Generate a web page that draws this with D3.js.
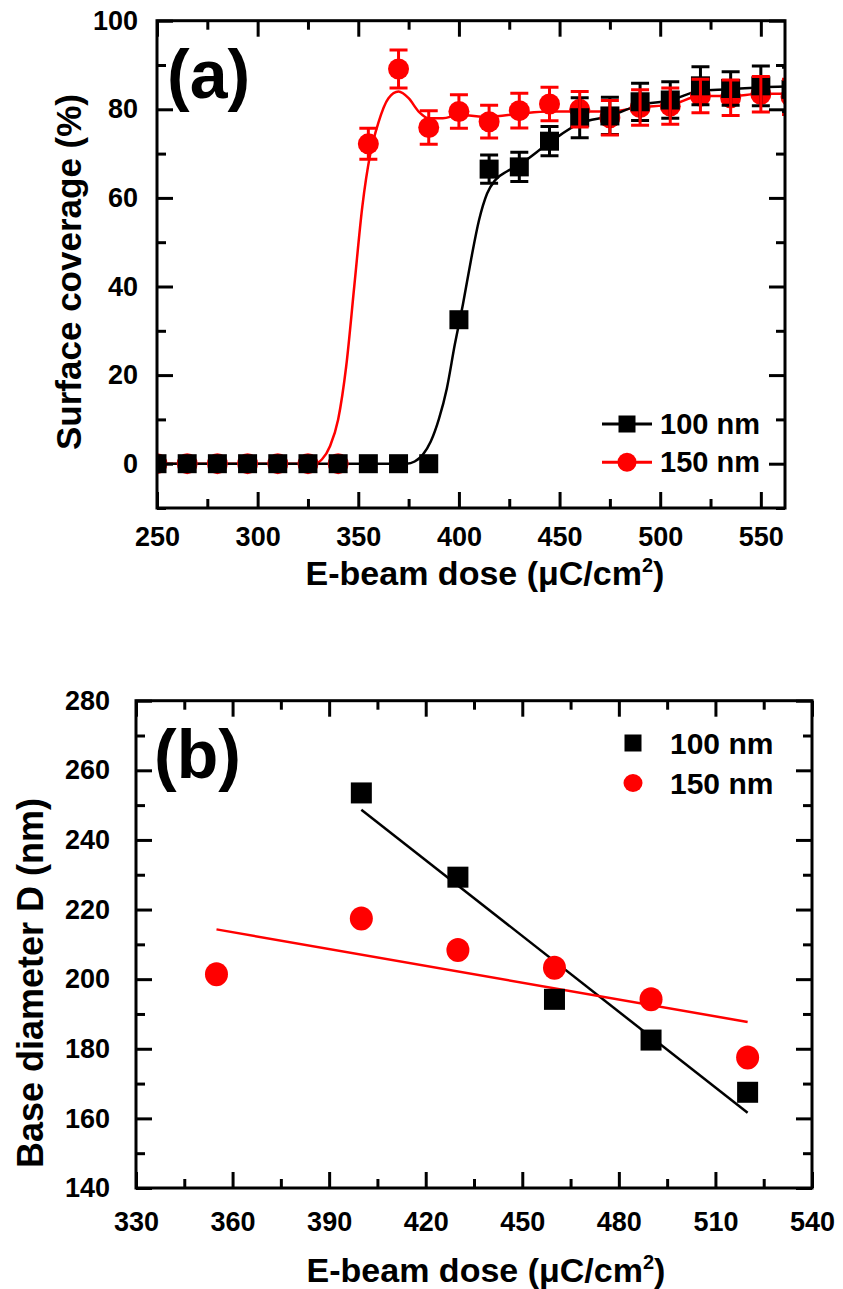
<!DOCTYPE html>
<html>
<head>
<meta charset="utf-8">
<script src="https://cdn.jsdelivr.net/npm/d3@7"></script>
<style>
  body { margin: 0; background: #fff; }
  svg text { font-family: Arial, "Liberation Sans", sans-serif; font-weight: bold; fill: #000; }
</style>
</head>
<body>
<div id="chart"></div>
<script>
// ---- panel (a): surface coverage vs dose ----
const doseA = [250, 265, 280, 295, 310, 325, 340, 355, 370, 385, 400, 415, 430, 445, 460, 475, 490, 505, 520, 535, 550, 565];
const cov100 = [0, 0, 0, 0, 0, 0, 0, 0, 0, 0, 32.5, 66.5, 67, 72.8, 78.1, 78.5, 81.7, 82.1, 85.3, 84.7, 85.3, 84.5];
const err100 = [0, 0, 0, 0, 0, 0, 0, 0, 0, 0, 0, 3.2, 3.3, 3.3, 4.5, 4.2, 4.2, 4.1, 4.3, 3.8, 4.5, 5];
const cov150 = [0, 0, 0, 0, 0, 0, 0, 72.2, 89.1, 75.9, 79.5, 77.2, 79.7, 81.2, 80.0, 78.1, 80.4, 80.7, 83.0, 82.6, 83.4, 82.8];
const err150 = [0, 0, 0, 0, 0, 0, 0, 3.5, 4.3, 3.8, 3.8, 3.7, 3.9, 3.8, 4.0, 3.9, 4.0, 4.1, 3.8, 4.0, 4.0, 4.0];

// fitted curves
const fitDose100 = [250, 374, 378, 382, 386, 390, 394, 398, 402, 406, 410, 414, 418, 424, 430, 445, 460, 475, 490, 505, 520, 535, 550, 565];
const fitCov100 = [0, 0, 0.5, 2, 5, 10, 17, 27, 36, 46, 55, 61, 64, 66, 67.5, 72.5, 76.8, 78.5, 81, 82, 84.2, 84.5, 85, 85.2];
const fitDose150 = [250, 328, 332, 336, 340, 344, 348, 352, 356, 360, 365, 370, 375, 380, 385, 392, 400, 415, 430, 445, 460, 475, 490, 505, 520, 535, 550, 565];
const fitCov150 = [0, 0, 1, 4, 10, 22, 40, 58, 70, 77, 82.5, 84, 82.5, 79.5, 78, 78, 78.7, 78.3, 79, 79.5, 79.5, 79.5, 80.5, 81, 83, 83, 83.5, 83.5];

const xTicksA = [250, 300, 350, 400, 450, 500, 550];
const yTicksA = [0, 20, 40, 60, 80, 100];

// ---- panel (b): base diameter vs dose ----
const doseB100 = [400, 430, 460, 490, 520];
const diam100 = [253.5, 229.3, 194.2, 182.5, 167.5];
const doseB150 = [355, 400, 430, 460, 490, 520];
const diam150 = [201.4, 217.4, 208.4, 203.3, 194.2, 177.5];
const fitDoseB100 = [400, 520];
const fitDiam100 = [248.7, 161.6];
const fitDoseB150 = [355, 520];
const fitDiam150 = [214.3, 187.7];

const xTicksB = [330, 360, 390, 420, 450, 480, 510, 540];
const yTicksB = [140, 160, 180, 200, 220, 240, 260, 280];

const seriesNames = ["100 nm", "150 nm"];
const red = "#ff0000";

const svg = d3.select("#chart")
  .append("svg")
  .attr("width", 843)
  .attr("height", 1289);

// frame with inward ticks on all four sides
function addFrame(g, x, y, w, h, xMajor, xMinor, yMajor, yMinor, xPad, yPad) {
  const axes = [
    g.append("g").attr("transform", `translate(0,${h})`).call(d3.axisBottom(x).tickValues(xMajor).tickSize(-16).tickPadding(xPad)),
    g.append("g").attr("transform", `translate(0,${h})`).call(d3.axisBottom(x).tickValues(xMinor).tickSize(-9).tickFormat("")),
    g.append("g").call(d3.axisTop(x).tickValues(xMajor).tickSize(-16).tickFormat("")),
    g.append("g").call(d3.axisTop(x).tickValues(xMinor).tickSize(-9).tickFormat("")),
    g.append("g").call(d3.axisLeft(y).tickValues(yMajor).tickSize(-16).tickPadding(yPad)),
    g.append("g").call(d3.axisLeft(y).tickValues(yMinor).tickSize(-9).tickFormat("")),
    g.append("g").attr("transform", `translate(${w},0)`).call(d3.axisRight(y).tickValues(yMajor).tickSize(-16).tickFormat("")),
    g.append("g").attr("transform", `translate(${w},0)`).call(d3.axisRight(y).tickValues(yMinor).tickSize(-9).tickFormat(""))
  ];
  axes.forEach(a => {
    a.attr("font-family", null).attr("font-size", null);
    a.select(".domain").remove();
    a.selectAll("line").attr("stroke", "#000").attr("stroke-width", 3);
    a.selectAll("text").style("font-size", "27px");
  });
  g.append("rect")
    .attr("width", w)
    .attr("height", h)
    .attr("fill", "none")
    .attr("stroke", "#000")
    .attr("stroke-width", 3);
}

function xTitle(xPos, yPos) {
  const t = svg.append("text")
    .attr("x", xPos)
    .attr("y", yPos)
    .attr("text-anchor", "middle")
    .style("font-size", "34px");
  t.append("tspan").text("E-beam dose (\u03bcC/cm");
  t.append("tspan").attr("dy", -13).style("font-size", "20px").text("2");
  t.append("tspan").attr("dy", 13).text(")");
}

// ================= panel (a) =================
const wA = 628, hA = 487.3;
const gA = svg.append("g").attr("transform", "translate(157, 20.7)");
const xA = d3.scaleLinear().domain([250, 562]).range([0, wA]);
const yA = d3.scaleLinear().domain([-10, 100]).range([hA, 0]);

gA.append("clipPath").attr("id", "clipA")
  .append("rect").attr("width", wA).attr("height", hA);
const plotA = gA.append("g").attr("clip-path", "url(#clipA)");

const dataA = doseA.map((d, i) => ({ dose: d, c100: cov100[i], e100: err100[i], c150: cov150[i], e150: err150[i] }));

const curve = d3.line()
  .x(d => xA(d[0]))
  .y(d => yA(d[1]))
  .curve(d3.curveMonotoneX);

plotA.append("path")
  .datum(fitDose150.map((d, i) => [d, fitCov150[i]]))
  .attr("d", curve)
  .attr("fill", "none")
  .attr("stroke", red)
  .attr("stroke-width", 2.5);

plotA.append("path")
  .datum(fitDose100.map((d, i) => [d, fitCov100[i]]))
  .attr("d", curve)
  .attr("fill", "none")
  .attr("stroke", "#000")
  .attr("stroke-width", 2.5);

plotA.selectAll(".c150")
  .data(dataA)
  .enter()
  .append("circle")
  .attr("cx", d => xA(d.dose))
  .attr("cy", d => yA(d.c150))
  .attr("r", 10.5)
  .attr("fill", red);

plotA.selectAll(".s100")
  .data(dataA)
  .enter()
  .append("rect")
  .attr("x", d => xA(d.dose) - 9.5)
  .attr("y", d => yA(d.c100) - 9.5)
  .attr("width", 19)
  .attr("height", 19)
  .attr("fill", "#000");

function errorBars(sel, key, errKey, color) {
  const bars = sel.selectAll(".eb-" + key)
    .data(dataA.filter(d => d[errKey] > 0))
    .enter()
    .append("g")
    .attr("stroke", color)
    .attr("stroke-width", 3);
  bars.append("line")
    .attr("x1", d => xA(d.dose)).attr("x2", d => xA(d.dose))
    .attr("y1", d => yA(d[key] - d[errKey])).attr("y2", d => yA(d[key] + d[errKey]));
  [1, -1].forEach(s => {
    bars.append("line")
      .attr("x1", d => xA(d.dose) - 9).attr("x2", d => xA(d.dose) + 9)
      .attr("y1", d => yA(d[key] + s * d[errKey])).attr("y2", d => yA(d[key] + s * d[errKey]));
  });
}
errorBars(plotA, "c100", "e100", "#000");
errorBars(plotA, "c150", "e150", red);

addFrame(gA, xA, yA, wA, hA, xTicksA, d3.range(275, 562, 50), yTicksA, d3.range(-10, 100, 20), 19, 19);

gA.append("text")
  .attr("x", 10)
  .attr("y", 77)
  .style("font-size", "68px")
  .text("(a)");

// legend (a)
const legA = gA.append("g").attr("transform", "translate(445, 403.3)");
seriesNames.forEach((name, i) => {
  const row = legA.append("g").attr("transform", `translate(0, ${i * 38.3})`);
  const color = i === 0 ? "#000" : red;
  row.append("line").attr("x1", 0).attr("x2", 50).attr("stroke", color).attr("stroke-width", 3);
  if (i === 0) {
    row.append("rect").attr("x", 16.5).attr("y", -8.5).attr("width", 17).attr("height", 17).attr("fill", color);
  } else {
    row.append("circle").attr("cx", 25).attr("r", 9.5).attr("fill", color);
  }
  row.append("text").attr("x", 58).attr("dy", "0.35em").style("font-size", "29px").text(name);
});

svg.append("text")
  .attr("transform", "translate(81, 272) rotate(-90)")
  .attr("text-anchor", "middle")
  .style("font-size", "35px")
  .text("Surface coverage (%)");

xTitle(485, 585);

// ================= panel (b) =================
const wB = 676, hB = 487.3;
const gB = svg.append("g").attr("transform", "translate(136, 700.7)");
const xB = d3.scaleLinear().domain([330, 540]).range([0, wB]);
const yB = d3.scaleLinear().domain([140, 280]).range([hB, 0]);

const straight = d3.line()
  .x(d => xB(d[0]))
  .y(d => yB(d[1]));

gB.append("path")
  .datum(fitDoseB100.map((d, i) => [d, fitDiam100[i]]))
  .attr("d", straight)
  .attr("stroke", "#000")
  .attr("stroke-width", 2.5);

gB.append("path")
  .datum(fitDoseB150.map((d, i) => [d, fitDiam150[i]]))
  .attr("d", straight)
  .attr("stroke", red)
  .attr("stroke-width", 2.5);

gB.selectAll(".s100")
  .data(doseB100.map((d, i) => ({ dose: d, v: diam100[i] })))
  .enter()
  .append("rect")
  .attr("x", d => xB(d.dose) - 10.5)
  .attr("y", d => yB(d.v) - 10.5)
  .attr("width", 21)
  .attr("height", 21)
  .attr("fill", "#000");

gB.selectAll(".c150")
  .data(doseB150.map((d, i) => ({ dose: d, v: diam150[i] })))
  .enter()
  .append("ellipse")
  .attr("cx", d => xB(d.dose))
  .attr("cy", d => yB(d.v))
  .attr("rx", 11.5)
  .attr("ry", 12)
  .attr("fill", red);

addFrame(gB, xB, yB, wB, hB, xTicksB, d3.range(345, 540, 30), yTicksB, d3.range(150, 280, 20), 23.5, 26);

gB.append("text")
  .attr("x", 18)
  .attr("y", 77)
  .style("font-size", "68px")
  .text("(b)");

// legend (b)
const legB = gB.append("g").attr("transform", "translate(497, 42.3)");
seriesNames.forEach((name, i) => {
  const row = legB.append("g").attr("transform", `translate(0, ${i * 40})`);
  if (i === 0) {
    row.append("rect").attr("x", -8.5).attr("y", -8.5).attr("width", 17).attr("height", 17).attr("fill", "#000");
  } else {
    row.append("ellipse").attr("rx", 9.5).attr("ry", 9).attr("fill", red);
  }
  row.append("text").attr("x", 37).attr("dy", "0.35em").style("font-size", "30px").text(name);
});

svg.append("text")
  .attr("transform", "translate(43, 983) rotate(-90)")
  .attr("text-anchor", "middle")
  .style("font-size", "36px")
  .text("Base diameter D (nm)");

xTitle(486, 1281.5);
</script>
</body>
</html>
